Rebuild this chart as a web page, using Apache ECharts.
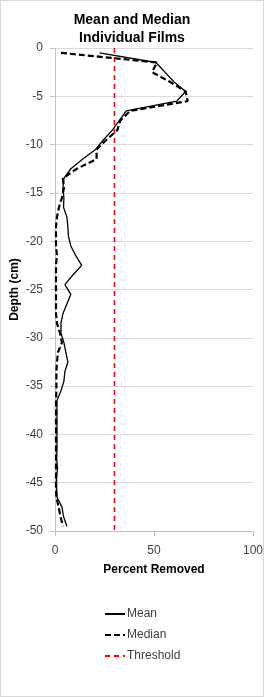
<!DOCTYPE html>
<html>
<head>
<meta charset="utf-8">
<title>Mean and Median Individual Films</title>
<script src="https://cdn.jsdelivr.net/npm/echarts@6/dist/echarts.min.js"></script>
<style>
	html, body { margin: 0; padding: 0; background: #fff; }
	#chart { width: 262px; height: 695px; border: 1px solid #d9d9d9; }
</style>
</head>
<body>
<div id="chart"></div>
<script type="text/javascript">
	// depth of each slice (cm)
	var depths = [-0.5, -1.5, -2.5, -3.5, -4.5, -5.5, -6.5, -7.5, -8.5, -9.5,
		-10.5, -11.5, -12.5, -13.5, -14.5, -15.5, -16.5, -17.5, -18.5, -19.5,
		-20.5, -21.5, -22.5, -23.5, -24.5, -25.5, -26.5, -27.5, -28.5, -29.5,
		-30.5, -31.5, -32.5, -33.5, -34.5, -35.5, -36.5, -37.5, -38.5, -39.5,
		-40.5, -41.5, -42.5, -43.5, -44.5, -45.5, -46.5, -47.5, -48.5, -49.5];
	// percent removed
	var meanValues = [22.5, 51, 55.5, 60, 66, 61.5, 36, 32.5, 29, 24.5,
		20.5, 14, 8, 4.5, 4, 4.5, 4.3, 6, 6.5, 6.8,
		8, 10.5, 13.5, 9, 5, 8, 6, 4, 3, 3,
		4.5, 5.5, 6.5, 5, 4.5, 3, 1, 1, 1, 1,
		1, 1, 0.8, 1.3, 0.8, 0.8, 1, 3.5, 4.3, 6];
	var medianValues = [3, 51.5, 49, 58, 66, 67, 38, 33, 31.5, 26,
		21, 21, 11, 4, 4.5, 3.5, 2, 1, 0.5, 0.5,
		0.5, 1, 0.5, 0.5, 0.5, 0.5, 0.5, 0.5, 1, 2.5,
		3.5, 1.5, 1, 0.7, 0.7, 0.7, 0.5, 0.5, 0.5, 0.5,
		0.5, 0.5, 0.5, 0.5, 0.5, 0.5, 0.7, 1.8, 2.8, 4];
	var thresholdValue = 30;
	var depthRange = [0, -50];

	function pairs(values) {
		return values.map(function (v, i) { return [v, depths[i]]; });
	}

	var font = '"Liberation Sans", Arial, sans-serif';
	var chart = echarts.init(document.getElementById('chart'));
	var option = {
		animation: false,
		textStyle: { fontFamily: font },
		title: {
			text: 'Mean and Median\nIndividual Films',
			left: 'center',
			top: 5,
			textStyle: { fontSize: 14, fontWeight: 'bold', color: '#000', lineHeight: 18, fontFamily: font }
		},
		grid: { left: 54, right: 10, top: 47, bottom: 165, outerBoundsMode: 'none', containLabel: false },
		xAxis: {
			type: 'value',
			min: 0, max: 100, interval: 50,
			name: 'Percent Removed',
			nameLocation: 'middle',
			nameGap: 33,
			nameMoveOverlap: false,
			nameTextStyle: { fontSize: 12, fontWeight: 'bold', color: '#000' },
			axisLine: { onZero: false, lineStyle: { color: '#bfbfbf' } },
			axisTick: { show: true, length: 5, lineStyle: { color: '#bfbfbf' } },
			axisLabel: { fontSize: 12, color: '#404040', margin: 14 },
			splitLine: { show: false }
		},
		yAxis: {
			type: 'value',
			min: -50, max: 0, interval: 5,
			name: 'Depth (cm)',
			nameLocation: 'middle',
			nameGap: 34,
			nameMoveOverlap: false,
			nameRotate: 90,
			nameTextStyle: { fontSize: 12, fontWeight: 'bold', color: '#000' },
			axisLine: { show: true, onZero: false, lineStyle: { color: '#bfbfbf' } },
			axisTick: { show: true, length: 5, lineStyle: { color: '#bfbfbf' } },
			axisLabel: { fontSize: 12, color: '#404040', margin: 12 },
			splitLine: { lineStyle: { color: '#d9d9d9' } }
		},
		legend: {
			orient: 'vertical',
			left: 98,
			top: 602,
			itemWidth: 20,
			itemHeight: 10,
			itemGap: 9,
			itemStyle: { opacity: 0 },
			textStyle: { fontSize: 12, color: '#404040', padding: [0, 0, 0, -3] },
			data: ['Mean', 'Median', 'Threshold']
		},
		series: [
			{
				name: 'Mean',
				type: 'line',
				symbol: 'none',
				data: pairs(meanValues),
				lineStyle: { color: '#000', width: 1.3 },
				itemStyle: { color: '#000' }
			},
			{
				name: 'Median',
				type: 'line',
				symbol: 'none',
				data: pairs(medianValues),
				lineStyle: { color: '#000', width: 2.2, type: [6, 3] },
				itemStyle: { color: '#000' }
			},
			{
				name: 'Threshold',
				type: 'line',
				symbol: 'none',
				data: [[thresholdValue, depthRange[0]], [thresholdValue, depthRange[1]]],
				lineStyle: { color: '#ff0000', width: 1.5, type: [5, 4] },
				itemStyle: { color: '#ff0000' }
			}
		]
	};
	chart.setOption(option);
</script>
</body>
</html>
